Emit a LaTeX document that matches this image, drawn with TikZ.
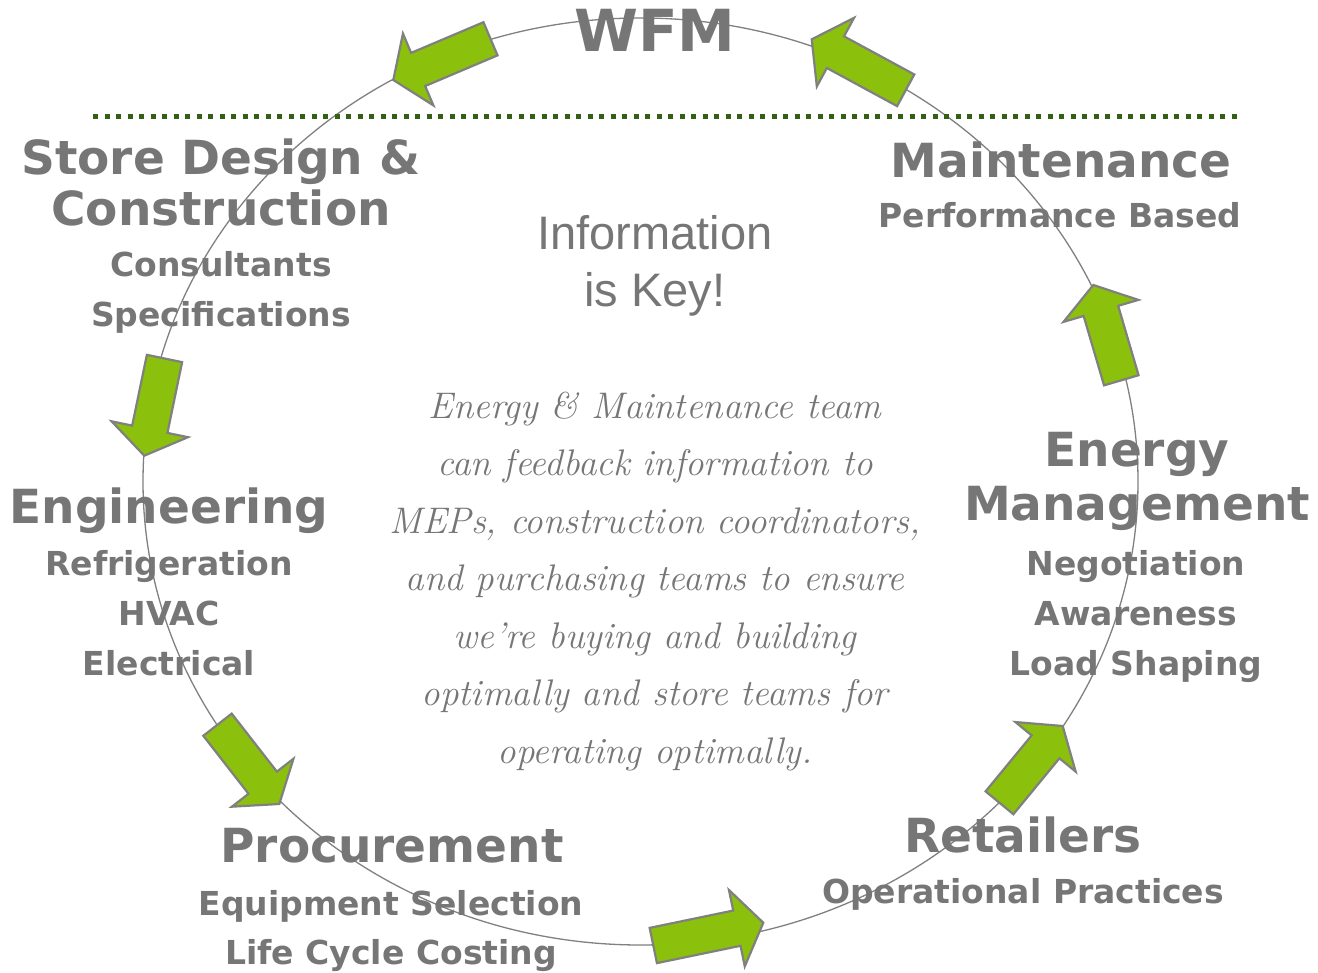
\documentclass[tikz,border=0pt]{standalone}
\usepackage{fontspec}
\usetikzlibrary{calc}
\newfontfamily\verdfont{DejaVu Sans}
\newfontfamily\arialfont{Liberation Sans}
\definecolor{txtgray}{RGB}{118,118,118}
\definecolor{edgegray}{RGB}{128,128,128}
\definecolor{leafgreen}{RGB}{139,193,12}
\definecolor{dotgreen}{RGB}{52,96,22}
% block arrow from tail #1 to tip #2
\newcommand\greenarrow[2]{%
  \coordinate (hb) at ($(#2)!27pt!(#1)$);
  \draw[blockarrow] ($(#1)!18pt!90:(#2)$) -- ($(hb)!18pt!90:(#2)$)
    -- ($(hb)!39pt!90:(#2)$) -- (#2) -- ($(hb)!39pt!-90:(#2)$)
    -- ($(hb)!18pt!-90:(#2)$) -- ($(#1)!18pt!-90:(#2)$) -- cycle;}
\begin{document}
\begin{tikzpicture}[x=1pt,y=-1pt,
    ring/.style={draw=edgegray, line width=1.3pt},
    sepline/.style={draw=dotgreen, line width=5pt, dash pattern=on 5pt off 6.5pt},
    blockarrow/.style={fill=leafgreen, draw=edgegray, line width=2.2pt, line join=miter},
    bighead/.style={text=txtgray, font=\verdfont\bfseries\fontsize{47}{47}\selectfont, anchor=base, inner sep=0pt},
    subitem/.style={text=txtgray, font=\verdfont\bfseries\fontsize{33}{33}\selectfont, anchor=base, inner sep=0pt}]
  \useasboundingbox (0,0) rectangle (1318,973);
  \draw[ring] (640.5,481.5) ellipse [x radius=497.5pt, y radius=463.5pt];
  \coordinate (sepL) at (93,117);
  \coordinate (sepR) at (1240,117);
  \draw[sepline] (sepL) -- (sepR);

  % arrows round the ring
  \coordinate (t1) at (490.5,38.8);   \coordinate (p1) at (393.3,80);
  \coordinate (t2) at (905.7,90.3);   \coordinate (p2) at (811.7,39.3);
  \coordinate (t3) at (1121.3,380.3); \coordinate (p3) at (1093.3,285);
  \coordinate (t4) at (999.5,802.8);  \coordinate (p4) at (1062.7,726);
  \coordinate (t5) at (653.3,945.5);  \coordinate (p5) at (763.3,922.7);
  \coordinate (t6) at (217.5,724.7);  \coordinate (p6) at (279.3,804);
  \coordinate (t7) at (164.5,358.5);  \coordinate (p7) at (144.3,455.7);
  \greenarrow{t1}{p1}
  \greenarrow{t2}{p2}
  \greenarrow{t3}{p3}
  \greenarrow{t4}{p4}
  \greenarrow{t5}{p5}
  \greenarrow{t6}{p6}
  \greenarrow{t7}{p7}

  \node[bighead, font=\verdfont\bfseries\fontsize{58}{58}\selectfont] (wfm) at (655,52) {WFM};

  \node[bighead] (store) at (221,175) {Store Design \&};
  \node[bighead] (constr) at (221,226) {Construction};
  \node[subitem] (consult) at (221,277) {Consultants};
  \node[subitem] (specs) at (221,327) {Specifications};

  \node[bighead] (maint) at (1061,178) {Maintenance};
  \node[subitem] (perf) at (1060,228) {Performance Based};

  \node[bighead] (energy) at (1137,467) {Energy};
  \node[bighead] (mgmt) at (1137,520) {Management};
  \node[subitem] (negot) at (1136,575) {Negotiation};
  \node[subitem] (aware) at (1136,625) {Awareness};
  \node[subitem] (load) at (1136,675) {Load Shaping};

  \node[bighead] (engin) at (169,523) {Engineering};
  \node[subitem] (refrig) at (169,575) {Refrigeration};
  \node[subitem] (hvac) at (169,625) {HVAC};
  \node[subitem] (elec) at (169,675) {Electrical};

  \node[bighead] (procure) at (392,862) {Procurement};
  \node[subitem] (equip) at (391,915) {Equipment Selection};
  \node[subitem] (lifecyc) at (391,964) {Life Cycle Costing};

  \node[bighead] (retail) at (1023,852) {Retailers};
  \node[subitem] (oper) at (1023,903) {Operational Practices};

  % base anchor of a two-line node sits on its last line
  \node[text=txtgray, font=\arialfont\fontsize{47}{57}\selectfont, anchor=base, align=center, inner sep=0pt] (key) at (655,307) {Information\\is Key!};

  \node[text=txtgray, font=\itshape\fontsize{37}{57.5}\selectfont, anchor=base, align=center, inner sep=0pt] (feedback) at (655,763)
    {Energy \& Maintenance team\\can feedback information to\\MEPs, construction coordinators,\\and purchasing teams to ensure\\we’re buying and building\\optimally and store teams for\\operating optimally.};
\end{tikzpicture}
\end{document}
